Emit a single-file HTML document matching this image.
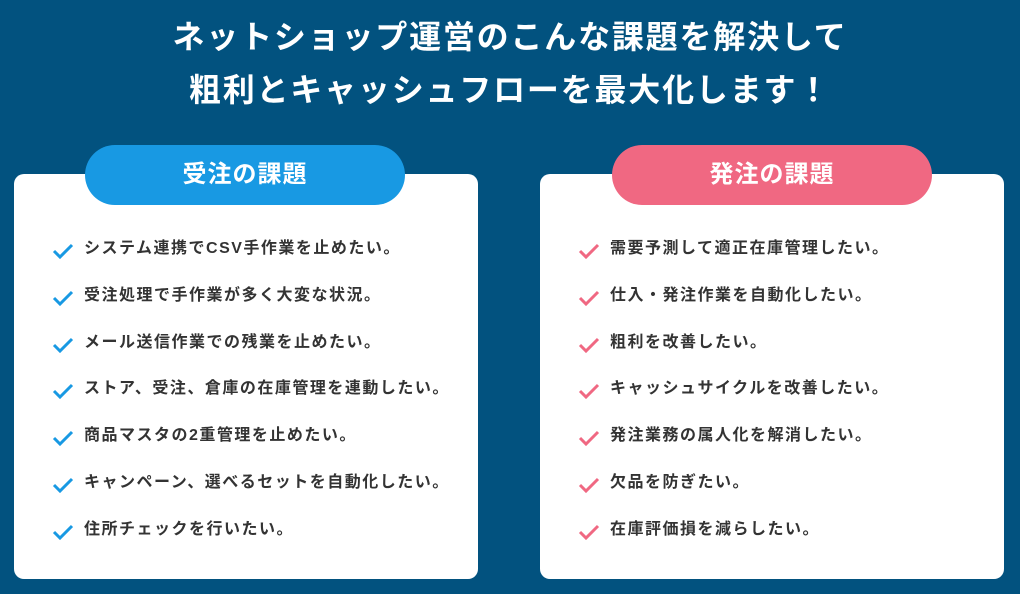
<!DOCTYPE html>
<html><head><meta charset="utf-8"><style>
*{margin:0;padding:0;box-sizing:border-box}
body{width:1020px;height:594px;background:#02527f;font-family:"Liberation Sans","Noto Sans CJK JP",sans-serif;position:relative;overflow:hidden}
.t{position:absolute;left:0;width:1020px;text-align:center;color:#fff;font-weight:bold;font-size:32px;letter-spacing:1.8px;line-height:40px}
.card{position:absolute;top:174px;width:464px;height:405px;background:#fff;border-radius:10px}
.pill{position:absolute;top:145px;width:320px;height:60px;border-radius:30px;color:#fff;font-weight:bold;font-size:24px;letter-spacing:1px;text-align:center;line-height:60px}
.item{position:absolute;font-size:16px;font-weight:bold;color:#333;letter-spacing:1.5px;line-height:20px;white-space:nowrap}
.item svg{position:absolute;left:-32px;top:4px}
</style></head><body>
<div class="t" style="top:17px">ネットショップ運営のこんな課題を解決して</div>
<div class="t" style="top:70px">粗利とキャッシュフローを最大化します！</div>
<div class="card" style="left:14px"></div>
<div class="card" style="left:540px"></div>
<div class="pill" style="left:85px;background:#1899e3">受注の課題</div>
<div class="pill" style="left:612px;background:#f06882">発注の課題</div>
<div id="L"></div>
<script>
var L=["システム連携でCSV手作業を止めたい。","受注処理で手作業が多く大変な状況。","メール送信作業での残業を止めたい。","ストア、受注、倉庫の在庫管理を連動したい。","商品マスタの2重管理を止めたい。","キャンペーン、選べるセットを自動化したい。","住所チェックを行いたい。"];
var R=["需要予測して適正在庫管理したい。","仕入・発注作業を自動化したい。","粗利を改善したい。","キャッシュサイクルを改善したい。","発注業務の属人化を解消したい。","欠品を防ぎたい。","在庫評価損を減らしたい。"];
var h="";
function add(a,x,c){for(var i=0;i<a.length;i++){var y=239+i*46.8;h+='<div class="item" style="left:'+x+'px;top:'+y+'px"><svg width="22" height="16" viewBox="0 0 22 16"><path d="M2 8 L8 14 L20 2" fill="none" stroke="'+c+'" stroke-width="3"/></svg>'+a[i]+'</div>';}}
add(L,84,"#1899e3");add(R,610,"#f06882");
document.getElementById("L").innerHTML=h;
</script>
</body></html>
